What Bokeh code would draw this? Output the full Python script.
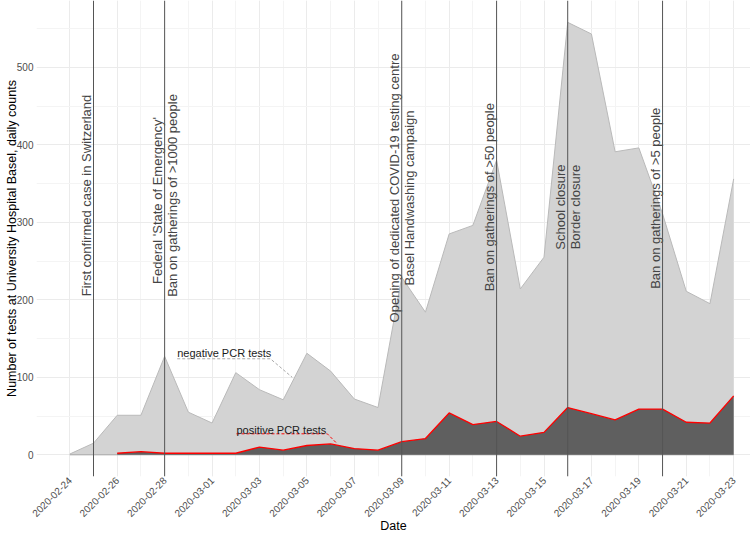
import numpy as np
import pandas as pd
from math import pi
from bokeh.plotting import figure
from bokeh.models import Range1d, FixedTicker, DatetimeTickFormatter, Span
from bokeh.core.properties import value
from bokeh.embed import file_html
from bokeh.resources import INLINE

# ---------------- data ----------------
dates = ["2020-02-24", "2020-02-25", "2020-02-26", "2020-02-27", "2020-02-28",
         "2020-02-29", "2020-03-01", "2020-03-02", "2020-03-03", "2020-03-04",
         "2020-03-05", "2020-03-06", "2020-03-07", "2020-03-08", "2020-03-09",
         "2020-03-10", "2020-03-11", "2020-03-12", "2020-03-13", "2020-03-14",
         "2020-03-15", "2020-03-16", "2020-03-17", "2020-03-18", "2020-03-19",
         "2020-03-20", "2020-03-21", "2020-03-22", "2020-03-23"]
positive = [None, None, 2, 4, 2, 2, 2, 2, 10, 6, 12, 14, 8, 6, 17, 21, 54, 39,
            43, 24, 29, 61, 53, 45, 59, 59, 42, 41, 76]
negative = [1, 15, 49, 47, 125, 53, 39, 104, 74, 65, 119, 94, 64, 55, 212, 163,
            231, 257, 337, 190, 226, 497, 490, 346, 337, 252, 169, 154, 280]

event_dates = ["2020-02-25", "2020-02-28", "2020-03-09", "2020-03-13",
               "2020-03-16", "2020-03-20"]
event_text_left = ["First confirmed case in Switzerland",
                   "Federal 'State of Emergency'",
                   "Opening of dedicated COVID-19 testing centre",
                   "Ban on gatherings of >50 people",
                   "School closure",
                   "Ban on gatherings of >5 people"]
event_text_right = ["", "Ban on gatherings of >1000 people",
                    "Basel Handwashing campaign", "", "Border closure", ""]

y_ticks = [0, 100, 200, 300, 400, 500]
y_minor = [50, 150, 250, 350, 450, 550]

x_title = "Date"
y_title = "Number of tests at University Hospital Basel, daily counts"

# ---------------- layout constants ----------------
event_y_left = [334.6, 328.1, 344.3, 332.4, 319.7, 331.0]
event_y_right = [None, 334.6, 331.4, None, 319.7, None]

FONT = "Liberation Sans"
DAY = 86400000.0
PX_PER_DAY = 23.71      # pixels per day in the reference
X0_PX = 69.3            # x of 2020-02-24
Y0_PX = 454.3           # y of value 0
PX_PER_UNIT = 0.775     # pixels per test
FIG_W, FIG_H = 750, 537
LEFT_BORDER = 36
BOTTOM_BORDER = 61
FRAME_LEFT = LEFT_BORDER
FRAME_TOP = 0
FRAME_BOTTOM = FIG_H - BOTTOM_BORDER


def ms(s):
    return pd.Timestamp(s).value / 1e6


x = np.array([ms(d) for d in dates])
d0 = x[0]


def px_x(px):
    return d0 + (px - X0_PX) / PX_PER_DAY * DAY


def px_y(py):
    return (Y0_PX - py) / PX_PER_UNIT


pos = np.array([np.nan if v is None else v for v in positive], dtype=float)
neg = np.array(negative, dtype=float)
total = np.nan_to_num(pos) + neg
mask = ~np.isnan(pos)

p = figure(width=FIG_W, height=FIG_H, x_axis_type="datetime",
           output_backend="svg", toolbar_location=None,
           x_range=Range1d(px_x(FRAME_LEFT), px_x(FIG_W)),
           y_range=Range1d(px_y(FRAME_BOTTOM), px_y(FRAME_TOP)),
           min_border_left=LEFT_BORDER, min_border_right=0,
           min_border_top=0, min_border_bottom=BOTTOM_BORDER)
p.outline_line_color = None
p.background_fill_color = "white"
p.border_fill_color = "white"

xt = FixedTicker(ticks=list(x[::2]), minor_ticks=list(x))
yt = FixedTicker(ticks=y_ticks, minor_ticks=y_minor)
p.xaxis.ticker = xt
p.yaxis.ticker = yt
p.xgrid.ticker = xt
p.ygrid.ticker = yt
for g in (p.xgrid, p.ygrid):
    g.grid_line_color = "#ebebeb"
    g.grid_line_width = 1
    g.minor_grid_line_color = "#f4f4f4"
    g.minor_grid_line_width = 1

fmt = "%Y-%m-%d"
p.xaxis.formatter = DatetimeTickFormatter(days=fmt, months=fmt, years=fmt,
                                          hours=fmt, minutes=fmt, seconds=fmt)
p.xaxis.major_label_orientation = pi / 4

for ax in (p.xaxis[0], p.yaxis[0]):
    ax.axis_line_color = None
    ax.major_tick_line_color = None
    ax.minor_tick_line_color = None
    ax.major_tick_out = 0
    ax.major_tick_in = 0
    ax.minor_tick_out = 0
    ax.minor_tick_in = 0
    ax.major_label_text_font = FONT
    ax.major_label_text_font_size = "10px"
    ax.major_label_text_color = "#4d4d4d"
    ax.axis_label_text_font = FONT
    ax.axis_label_text_font_size = "12.5px"
    ax.axis_label_text_font_style = "normal"
    ax.axis_label_text_color = "black"
p.xaxis.axis_label = x_title
p.yaxis.axis_label = y_title
p.xaxis.major_label_standoff = 2
p.xaxis.axis_label_standoff = -4
p.yaxis.major_label_standoff = 3
p.yaxis.axis_label_standoff = -5

# areas
p.varea(x=x, y1=0, y2=total, fill_color="#d3d3d3")
p.line(x, total, line_color="#b9b9b9", line_width=1)
p.line([x[0], x[-1]], [0, 0], line_color="#a5a5a5", line_width=1)
p.varea(x=x[mask], y1=0, y2=pos[mask], fill_color="#5f5f5f")
p.line(x[mask], pos[mask], line_color="red", line_width=1.3)

# event lines
for d in event_dates:
    p.add_layout(Span(location=ms(d), dimension="height",
                      line_color="#555555", line_width=1))

ex = [ms(d) for d in event_dates]
p.text(x=ex, y=event_y_left, text=event_text_left, angle=pi / 2,
       text_align="center", text_baseline="bottom",
       text_font=value(FONT), text_font_size="13px", text_color="#444444")
rx = [ex[i] for i in range(len(ex)) if event_text_right[i]]
ry = [event_y_right[i] for i in range(len(ex)) if event_text_right[i]]
rt = [t for t in event_text_right if t]
p.text(x=rx, y=ry, text=rt, angle=pi / 2,
       text_align="center", text_baseline="top",
       text_font=value(FONT), text_font_size="13px", text_color="#444444")

# series labels with leader lines
neg_lab = (d0 + 4.53 * DAY, 132.0)
neg_seg = ([d0 + 4.53 * DAY, d0 + 8.46 * DAY, d0 + 9.38 * DAY], [123.9, 123.9, 100.0])
pos_lab = (d0 + 7.03 * DAY, 32.6)
pos_seg = ([d0 + 7.03 * DAY, d0 + 10.86 * DAY, d0 + 11.28 * DAY], [27.1, 27.1, 14.2])

p.line(neg_seg[0], neg_seg[1], line_color="#a8a8a8", line_dash="3 2", line_width=1)
p.line(pos_seg[0], pos_seg[1], line_color="red", line_dash="3 2", line_width=1)
p.text(x=[neg_lab[0]], y=[neg_lab[1]], text=["negative PCR tests"],
       text_align="left", text_baseline="middle", text_font=value(FONT),
       text_font_size="11px", text_color="#1a1a1a")
p.text(x=[pos_lab[0]], y=[pos_lab[1]], text=["positive PCR tests"],
       text_align="left", text_baseline="middle", text_font=value(FONT),
       text_font_size="11px", text_color="#1a1a1a")

open("out.html", "w").write(file_html(p, INLINE))
